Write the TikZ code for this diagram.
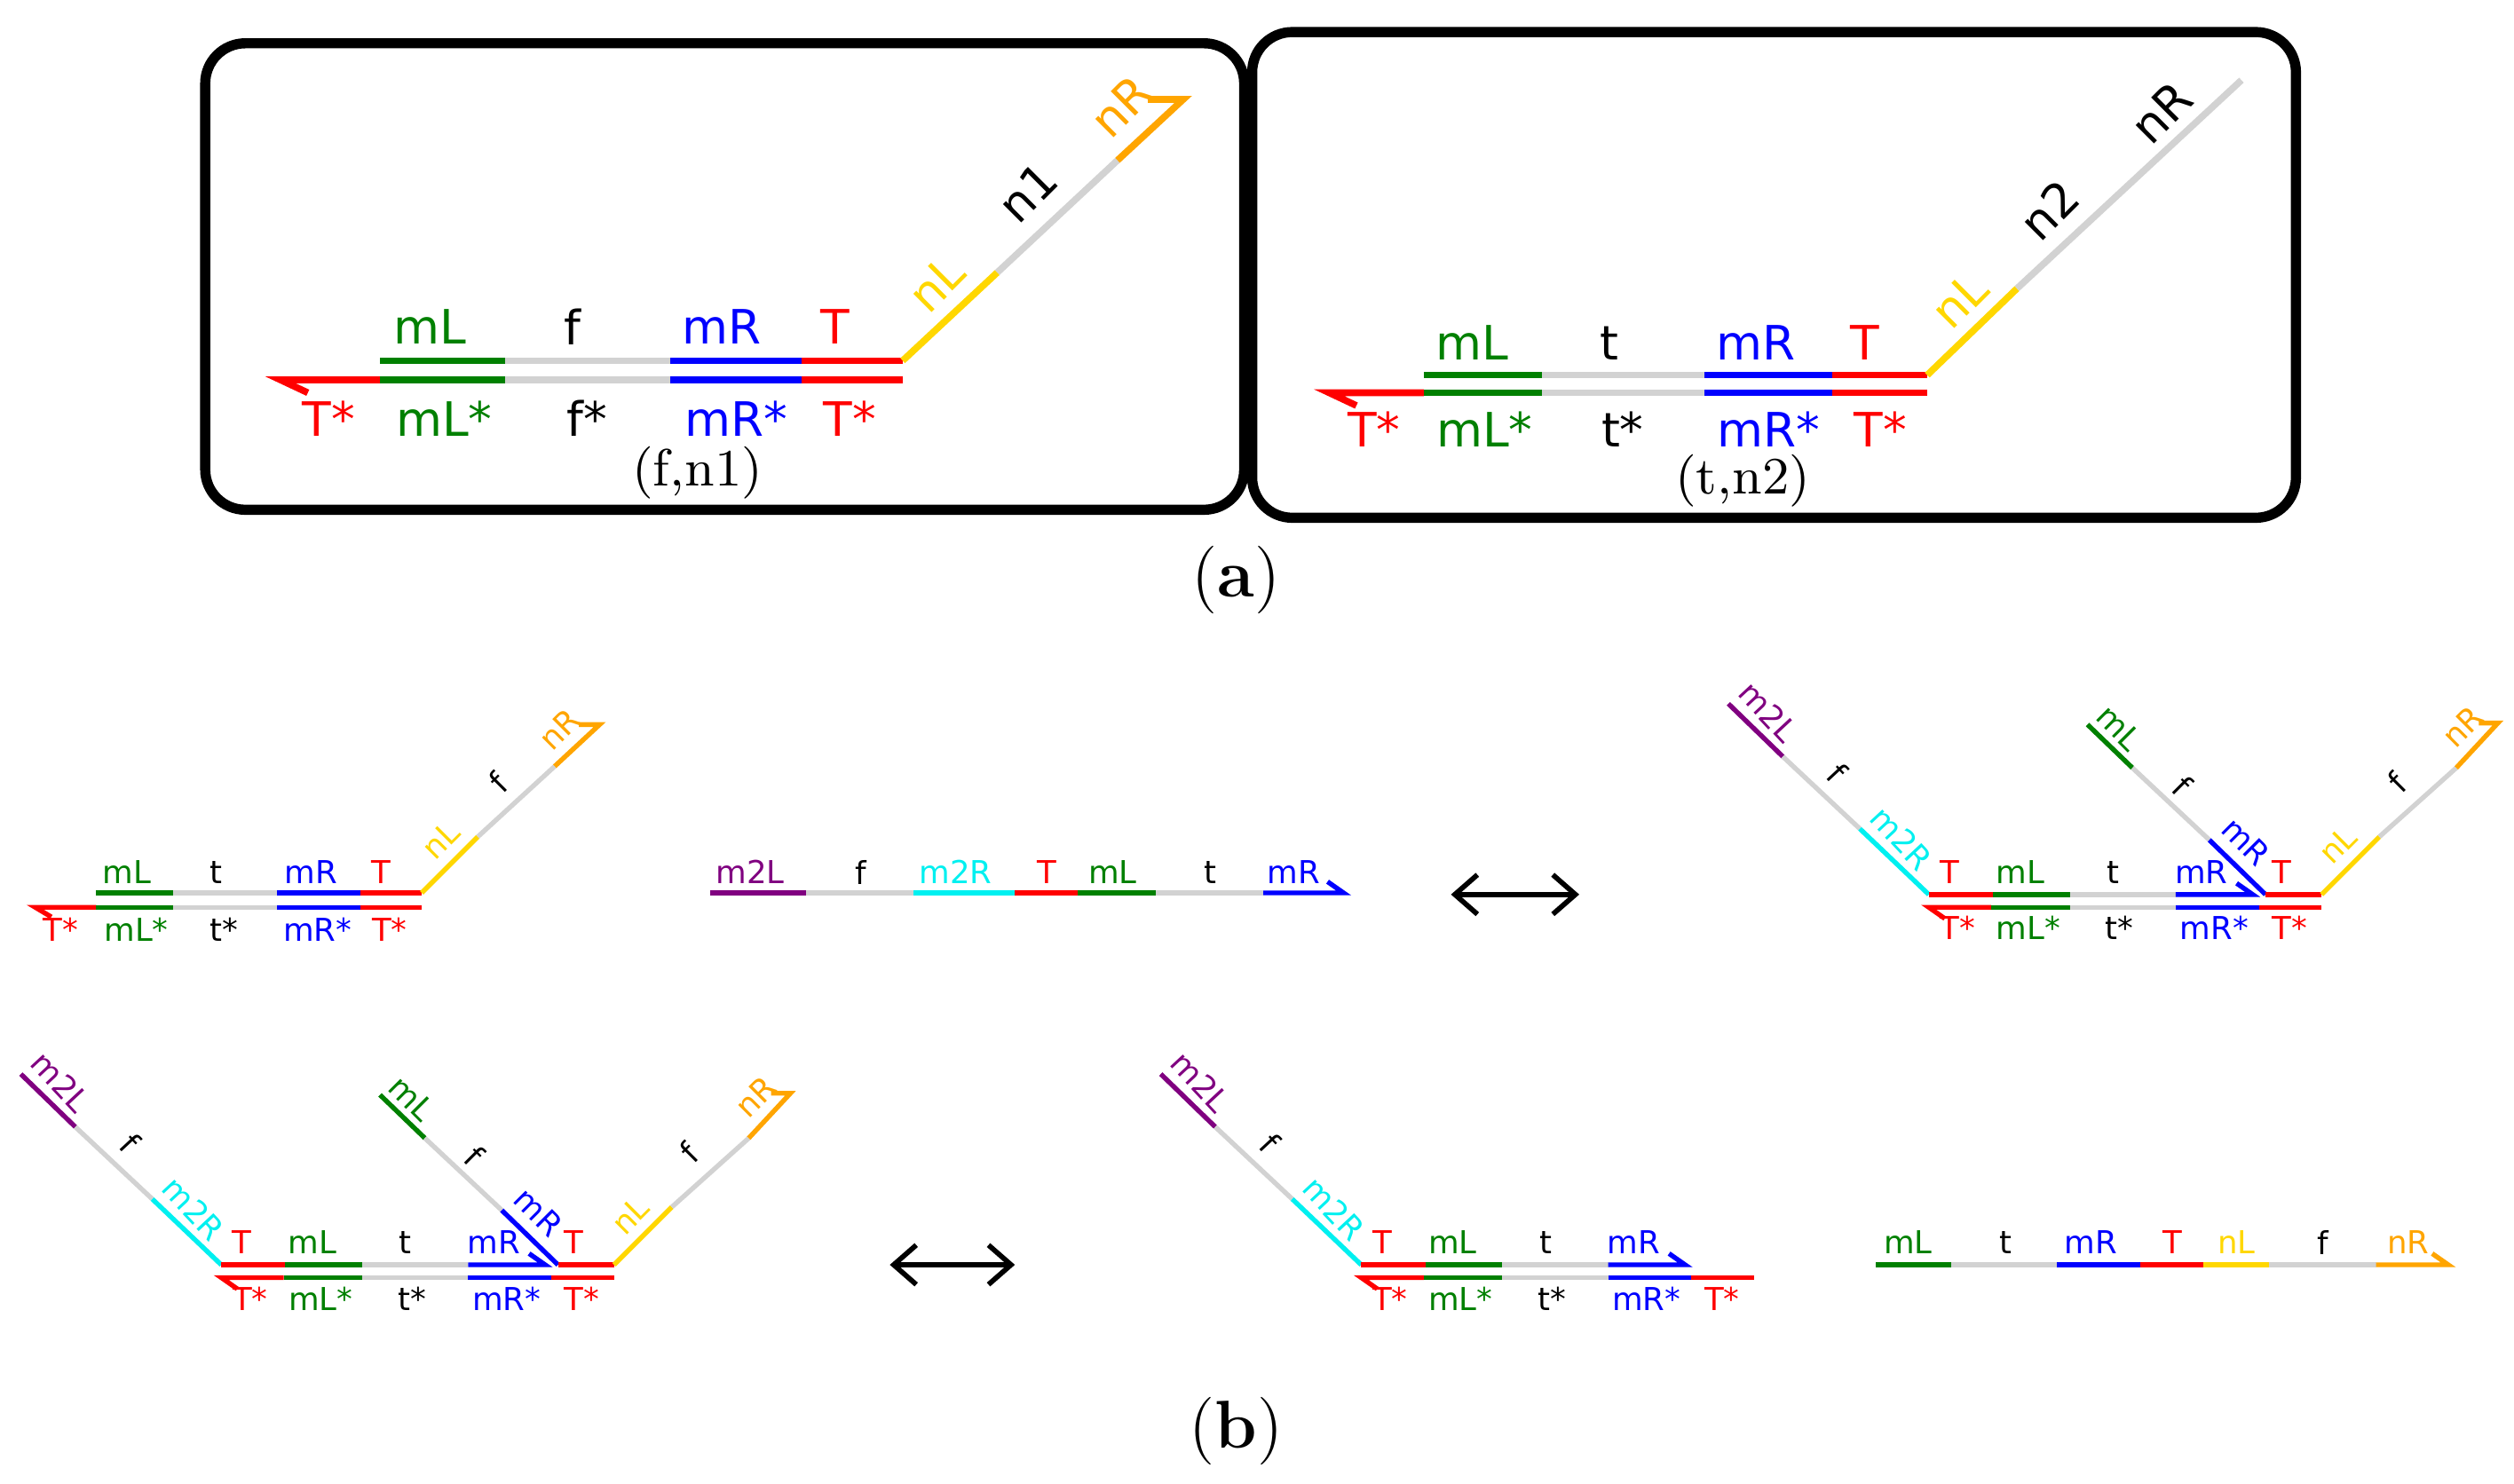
\documentclass[tikz,border=0pt]{standalone}
\usepackage{fontspec}
\setsansfont{DejaVu Sans}
\usetikzlibrary{arrows.meta}
\definecolor{G}{RGB}{0,128,0}
\definecolor{Gy}{RGB}{210,210,210}
\definecolor{B}{RGB}{0,0,255}
\definecolor{R}{RGB}{255,0,0}
\definecolor{Ye}{RGB}{255,215,0}
\definecolor{Or}{RGB}{255,165,0}
\definecolor{Pu}{RGB}{128,0,128}
\definecolor{Cy}{RGB}{0,240,240}
\tikzset{
 sa/.style={line width=1.2pt},
 sb/.style={line width=0.85pt},
 la/.style={font=\sffamily\fontsize{8.4}{9}\selectfont, inner sep=0},
 lb/.style={font=\sffamily\fontsize{5.6}{6}\selectfont, inner sep=0},
 box/.style={line width=1.8pt, rounded corners=0.25cm},
 captxt/.style={font=\fontsize{9.3}{10}\selectfont, inner sep=0},
 dbl/.style={{Straight Barb[length=4pt,width=7pt]}-{Straight Barb[length=4pt,width=7pt]}, line width=0.9pt}
}
\newcommand\leftarm{%
 \draw[sb,Pu] (1078,439)--(1112,472);
 \draw[sb,Gy] (1112,472)--(1160,517);
 \draw[sb,Cy] (1160,517)--(1203,558);
 \node[lb,Pu,rotate=-47] at (1103,444) {m2L};
 \node[lb,rotate=-47] at (1146,482) {f};
 \node[lb,Cy,rotate=-47] at (1186,523) {m2R};
 \draw[sb,R] (1203,558)--(1243,558);
 \draw[sb,G] (1243,558)--(1291,558);
 \draw[sb,Gy] (1291,558)--(1357,558);
 \draw[sb,B] (1357,558)--(1405,558)--(1395,551);
 \node[lb,R] at (1216,544) {T};
 \node[lb,G] at (1260,544) {mL};
 \node[lb] at (1318,544) {t};
 \node[lb,B] at (1373,544) {mR};
 \draw[sb,R] (1213,573)--(1203,566)--(1242,566);
 \draw[sb,G] (1242,566)--(1291,566);
 \draw[sb,Gy] (1291,566)--(1357,566);
 \draw[sb,B] (1357,566)--(1409,566);
 \draw[sb,R] (1409,566)--(1448,566);
 \node[lb,R] at (1221,579) {T*};
 \node[lb,G] at (1265,579) {mL*};
 \node[lb] at (1322,579) {t*};
 \node[lb,B] at (1381,579) {mR*};
 \node[lb,R] at (1428,579) {T*};
}
\newcommand\restarm{%
 \draw[sb,G] (1302,452)--(1330,479);
 \draw[sb,Gy] (1330,479)--(1378,524);
 \draw[sb,B] (1378,524)--(1413,558);
 \node[lb,G,rotate=-45] at (1322,454) {mL};
 \node[lb,rotate=-45] at (1361,490) {f};
 \node[lb,B,rotate=-45] at (1401,525) {mR};
 \draw[sb,R] (1413,558)--(1448,558);
 \node[lb,R] at (1423,544) {T};
 \draw[sb,Ye] (1448,558)--(1484,522);
 \draw[sb,Gy] (1484,522)--(1532,479);
 \draw[sb,Or] (1532,479)--(1558,451)--(1546,451);
 \node[lb,Ye,rotate=45] at (1458,527) {nL};
 \node[lb,rotate=45] at (1495,488) {f};
 \node[lb,Or,rotate=45] at (1536,453) {nR};
}
\begin{document}
\begin{tikzpicture}[x=0.01cm,y=-0.01cm]
\useasboundingbox (0,0) rectangle (1568,925.7);
% ---------- panel (a) left
\draw[box] (128,27) rectangle (776,318);
\draw[sa,G] (237,225)--(315,225);
\draw[sa,Gy] (315,225)--(418,225);
\draw[sa,B] (418,225)--(500,225);
\draw[sa,R] (500,225)--(563,225);
\draw[sa,Ye] (563,225)--(622,170);
\draw[sa,Gy] (622,170)--(697,100);
\draw[sa,Or] (697,100)--(738,62)--(716,62);
\draw[sa,R] (192,245)--(175,237)--(237,237);
\draw[sa,G] (237,237)--(315,237);
\draw[sa,Gy] (315,237)--(418,237);
\draw[sa,B] (418,237)--(500,237);
\draw[sa,R] (500,237)--(563,237);
\node[la,G] at (268,204) {mL};
\node[la] at (357,204) {f};
\node[la,B] at (450,204) {mR};
\node[la,R] at (521,204) {T};
\node[la,R] at (205,261) {T*};
\node[la,G] at (277,261) {mL*};
\node[la] at (366,261) {f*};
\node[la,B] at (459,261) {mR*};
\node[la,R] at (530,261) {T*};
\node[la,Ye,rotate=45] at (584,177) {nL};
\node[la,rotate=45] at (641,120) {n1};
\node[la,Or,rotate=45] at (699,66) {nR};
\node[captxt] at (435,295) {(f,n1)};
% ---------- panel (a) right
\draw[box] (781,20) rectangle (1432,323);
\draw[sa,G] (888,234)--(962,234);
\draw[sa,Gy] (962,234)--(1063,234);
\draw[sa,B] (1063,234)--(1143,234);
\draw[sa,R] (1143,234)--(1202,234);
\draw[sa,Ye] (1202,234)--(1258,180);
\draw[sa,Gy] (1258,180)--(1398,50);
\draw[sa,R] (846,253)--(829,245)--(888,245);
\draw[sa,G] (888,245)--(962,245);
\draw[sa,Gy] (962,245)--(1063,245);
\draw[sa,B] (1063,245)--(1143,245);
\draw[sa,R] (1143,245)--(1202,245);
\node[la,G] at (918,214) {mL};
\node[la] at (1004,214) {t};
\node[la,B] at (1095,214) {mR};
\node[la,R] at (1163,214) {T};
\node[la,R] at (857,268) {T*};
\node[la,G] at (926,268) {mL*};
\node[la] at (1012,268) {t*};
\node[la,B] at (1103,268) {mR*};
\node[la,R] at (1173,268) {T*};
\node[la,Ye,rotate=45] at (1222,187) {nL};
\node[la,rotate=45] at (1278,131) {n2};
\node[la,rotate=45] at (1348,70) {nR};
\node[captxt] at (1087,300) {(t,n2)};
\node[font=\fontsize{12}{13}\selectfont] (capa) at (771,362) {(\textbf{a})};
% ---------- panel (b) row 1 left
\draw[sb,G] (60,557)--(108,557);
\draw[sb,Gy] (108,557)--(173,557);
\draw[sb,B] (173,557)--(225,557);
\draw[sb,R] (225,557)--(263,557);
\draw[sb,Ye] (263,557)--(298,522);
\draw[sb,Gy] (298,522)--(346,478);
\draw[sb,Or] (346,478)--(374,452)--(361,452);
\draw[sb,R] (32,572)--(22,566)--(60,566);
\draw[sb,G] (60,566)--(108,566);
\draw[sb,Gy] (108,566)--(173,566);
\draw[sb,B] (173,566)--(225,566);
\draw[sb,R] (225,566)--(263,566);
\node[lb,G] at (79,544) {mL};
\node[lb] at (135,544) {t};
\node[lb,B] at (194,544) {mR};
\node[lb,R] at (238,544) {T};
\node[lb,R] at (38,580) {T*};
\node[lb,G] at (85,580) {mL*};
\node[lb] at (140,580) {t*};
\node[lb,B] at (198,580) {mR*};
\node[lb,R] at (243,580) {T*};
\node[lb,Ye,rotate=45] at (275,524) {nL};
\node[lb,rotate=45] at (311,488) {f};
\node[lb,Or,rotate=45] at (349,455) {nR};
% row 1 middle
\draw[sb,Pu] (443,557)--(503,557);
\draw[sb,Gy] (503,557)--(570,557);
\draw[sb,Cy] (570,557)--(633,557);
\draw[sb,R] (633,557)--(672,557);
\draw[sb,G] (672,557)--(721,557);
\draw[sb,Gy] (721,557)--(788,557);
\draw[sb,B] (788,557)--(838,557)--(828,550);
\node[lb,Pu] at (468,544) {m2L};
\node[lb] at (537,544) {f};
\node[lb,Cy] at (596,544) {m2R};
\node[lb,R] at (653,544) {T};
\node[lb,G] at (694,544) {mL};
\node[lb] at (755,544) {t};
\node[lb,B] at (807,544) {mR};
\coordinate (d1a) at (905,558); \coordinate (d1b) at (985,558);
\draw[dbl] (d1a)--(d1b);
% row 1 right
\leftarm \restarm
% row 2 left
\begin{scope}[shift={(-1065,231)}] \leftarm \restarm \end{scope}
\coordinate (d2a) at (555,789); \coordinate (d2b) at (633,789);
\draw[dbl] (d2a)--(d2b);
% row 2 middle
\begin{scope}[shift={(-354,231)}] \leftarm \end{scope}
% row 2 right
\draw[sb,G] (1170,789)--(1217,789);
\draw[sb,Gy] (1217,789)--(1283,789);
\draw[sb,B] (1283,789)--(1335,789);
\draw[sb,R] (1335,789)--(1374,789);
\draw[sb,Ye] (1374,789)--(1415,789);
\draw[sb,Gy] (1415,789)--(1482,789);
\draw[sb,Or] (1482,789)--(1527,789)--(1517,782);
\node[lb,G] at (1190,775) {mL};
\node[lb] at (1251,775) {t};
\node[lb,B] at (1304,775) {mR};
\node[lb,R] at (1355,775) {T};
\node[lb,Ye] at (1395,775) {nL};
\node[lb] at (1449,775) {f};
\node[lb,Or] at (1502,775) {nR};
\node[font=\fontsize{12}{13}\selectfont] (capb) at (771,893) {(\textbf{b})};
\end{tikzpicture}
\end{document}
